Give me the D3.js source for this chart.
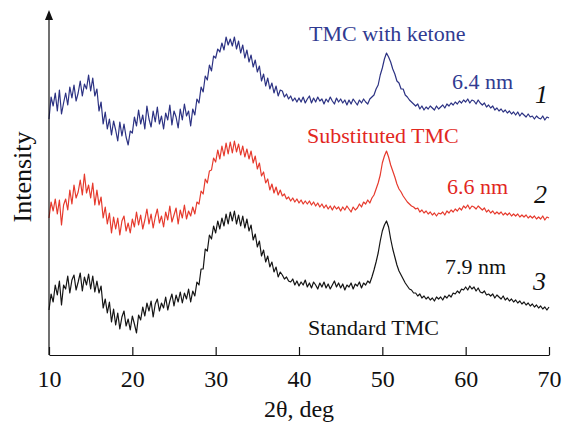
<!DOCTYPE html>
<html>
<head>
<meta charset="utf-8">
<script src="https://cdn.jsdelivr.net/npm/d3@7"></script>
<style>
    body { margin: 0; background: #fff; }
    svg { display: block; font-family: "Liberation Serif", "Times New Roman", serif; }
    .trace { fill: none; stroke-width: 1.2; stroke-linejoin: round; }
</style>
</head>
<body>
<svg id="chart"></svg>
<script>
// 2θ grid, 0.25 deg step from 10 to 70
const angleStart = 10
const angleEnd = 70
const angleStep = 0.25

// intensities (arbitrary units), one value per grid step
const ketoneTMC = [
    236, 258, 249, 262,  244, 265, 241, 252,  262, 250, 268, 257,  270, 254, 262, 274,
    259, 271, 266, 280,  264, 277, 259, 266,  244, 253, 231, 243,  226, 236, 220, 234,
    225, 214, 233, 219,  231, 218, 210, 224,  222, 238, 229, 245,  231, 240, 226, 249,
    236, 228, 244, 233,  248, 231, 239, 226,  242, 235, 250, 230,  244, 238, 227, 246,
    235, 251, 239, 244,  229, 246, 240, 256,  252, 268, 263, 279,  275, 290, 284, 299,
    297, 306, 303, 312,  305, 318, 310, 316,  309, 318, 306, 314,  302, 310, 297, 305,
    293, 300, 288, 295,  283, 289, 274, 281,  269, 277, 266, 272,  262, 269, 259, 265,
    264, 258, 261, 256,  259, 254, 257, 253,  257, 253, 258, 252,  256, 259, 252, 257,
    253, 258, 254, 256,  251, 256, 253, 258,  254, 251, 257, 253,  256, 252, 255, 250,
    255, 251, 256, 253,  250, 255, 252, 256,  253, 251, 256, 258,  260, 266, 270, 280,
    287, 296, 302, 298,  293, 286, 281, 274,  272, 266, 266, 260,  258, 255, 253, 251,
    249, 251, 246, 249,  245, 248, 246, 249,  247, 245, 249, 246,  248, 250, 247, 251,
    249, 252, 250, 253,  251, 254, 252, 255,  253, 256, 252, 255,  254, 251, 255, 252,
    250, 252, 248, 250,  247, 249, 245, 247,  244, 246, 243, 245,  242, 244, 241, 243,
    240, 243, 239, 242,  240, 238, 241, 238,  239, 236, 239, 237,  236, 239, 235, 238,
    237
]

const substitutedTMC = [
    137, 153, 144, 156,  141, 155, 130, 150,  156, 145, 165, 151,  170, 157, 163, 175,
    160, 181, 162, 170,  157, 172, 150, 165,  150, 158, 137, 148,  131, 142, 122, 138,
    126, 137, 120, 134,  139, 124, 132, 122,  136, 128, 143, 130,  140, 126, 135, 146,
    131, 141, 127, 138,  146, 132, 139, 128,  143, 135, 149, 133,  140, 147, 131, 145,
    137, 150, 136, 144,  139, 148, 141, 153,  151, 164, 161, 176,  172, 184, 185, 197,
    193, 205, 196, 209,  199, 212, 201, 213,  202, 214, 203, 211,  200, 209, 198, 206,
    196, 204, 192, 199,  186, 192, 179, 183,  172, 176, 165, 171,  162, 168, 160, 165,
    159, 161, 156, 158,  154, 157, 153, 156,  152, 155, 151, 154,  151, 154, 150, 153,
    149, 152, 148, 151,  147, 150, 146, 149,  145, 149, 146, 148,  144, 148, 145, 149,
    146, 143, 148, 145,  147, 151, 148, 153,  151, 155, 152, 157,  160, 166, 172, 180,
    192, 199, 204, 198,  190, 184, 178, 171,  166, 163, 159, 156,  153, 151, 149, 148,
    146, 147, 143, 145,  142, 144, 141, 143,  140, 142, 139, 142,  141, 143, 140, 144,
    142, 145, 143, 146,  144, 147, 145, 149,  147, 150, 146, 149,  148, 146, 149, 147,
    145, 147, 143, 145,  142, 144, 141, 143,  141, 143, 140, 142,  140, 142, 139, 141,
    139, 141, 138, 140,  138, 140, 137, 139,  137, 139, 136, 138,  136, 139, 135, 138,
    137
]

const standardTMC = [
    45, 61, 53, 70,  60, 74, 50, 70,  66, 79, 62, 75,  80, 65, 73, 82,
    64, 78, 70, 81,  66, 79, 63, 74,  62, 69, 47, 56,  42, 53, 33, 46,
    30, 42, 26, 38,  44, 29, 36, 25,  39, 31, 22, 40,  35, 48, 39, 52,
    44, 54, 38, 51,  56, 44, 52, 47,  58, 45, 54, 61,  49, 60, 53, 63,
    52, 62, 56, 66,  53, 64, 59, 73,  70, 86, 86, 106,  104, 120, 116, 129,
    122, 134, 126, 137,  129, 141, 131, 143,  134, 144, 131, 140,  129, 139, 127, 136,
    124, 130, 115, 121,  108, 114, 99, 105,  93, 99, 88, 93,  83, 88, 78, 83,
    80, 76, 78, 74,  73, 76, 70, 74,  69, 73, 70, 75,  68, 72, 67, 73,
    70, 66, 72, 68,  73, 67, 71, 66,  70, 74, 68, 72,  67, 71, 65, 70,
    68, 72, 66, 71,  69, 73, 67, 72,  70, 74, 72, 78,  85, 93, 102, 114,
    124, 130, 134, 128,  116, 106, 98, 90,  84, 80, 76, 72,  69, 66, 65, 62,
    62, 59, 61, 57,  59, 56, 58, 55,  57, 54, 58, 56,  58, 55, 59, 57,
    60, 58, 62, 61,  64, 62, 66, 65,  68, 65, 69, 66,  68, 64, 67, 63,
    62, 64, 60, 61,  59, 61, 57, 60,  58, 56, 59, 55,  57, 54, 56, 53,
    55, 52, 54, 51,  53, 50, 52, 49,  51, 48, 50, 47,  49, 46, 48, 45,
    48
]

const xTicks = [10, 20, 30, 40, 50, 60, 70]

const series = [
    { name: 'TMC with ketone', size: '6.4 nm', num: '1', values: ketoneTMC, color: '#2c3283', textColor: '#313b91' },
    { name: 'Substituted TMC', size: '6.6 nm', num: '2', values: substitutedTMC, color: '#e63a2d', textColor: '#e2281f' },
    { name: 'Standard TMC', size: '7.9 nm', num: '3', values: standardTMC, color: '#151515', textColor: '#111' },
]

const FONT = '"Liberation Serif", "Times New Roman", serif'
const WIDTH = 565
const HEIGHT = 424
const PADDING = { top: 12, right: 16, bottom: 69, left: 49 }

const svg = d3.select('#chart')
    .attr('width', WIDTH)
    .attr('height', HEIGHT)
    .attr('viewBox', [0, 0, WIDTH, HEIGHT].join(' '))

const bottom = HEIGHT - PADDING.bottom
const xScale = d3.scaleLinear().domain([angleStart, angleEnd]).range([PADDING.left, WIDTH - PADDING.right])
const yScale = d3.scaleLinear().domain([0, bottom - PADDING.top]).range([bottom, PADDING.top])

const angles = d3.range(ketoneTMC.length).map(i => angleStart + i * angleStep)

// traces
const line = d3.line()
    .x((d, i) => xScale(angles[i]))
    .y(d => yScale(d))

svg.append('g')
    .selectAll('path')
    .data(series)
    .join('path')
    .attr('class', 'trace')
    .attr('stroke', d => d.color)
    .attr('d', d => line(d.values))

// x axis, ticks pointing into the plot
const xAxis = d3.axisBottom(xScale)
    .tickValues(xTicks)
    .tickFormat(d3.format('d'))
    .tickSizeInner(-8)
    .tickSizeOuter(0)
    .tickPadding(15)

const xAxisGroup = svg.append('g')
    .attr('transform', `translate(0,${bottom})`)
    .call(xAxis)

xAxisGroup.attr('font-family', FONT).attr('font-size', 24)
xAxisGroup.select('.domain').attr('stroke', '#111').attr('stroke-width', 1.2)
xAxisGroup.selectAll('.tick line').attr('stroke', '#111').attr('stroke-width', 1.2)
xAxisGroup.selectAll('.tick text').attr('fill', '#111')

// y axis with an arrow on top
svg.append('line')
    .attr('x1', PADDING.left).attr('x2', PADDING.left)
    .attr('y1', bottom).attr('y2', PADDING.top + 4)
    .attr('stroke', '#111').attr('stroke-width', 1.2)

svg.append('path')
    .attr('d', `M${PADDING.left},${PADDING.top - 2} L${PADDING.left - 4},${PADDING.top + 8} L${PADDING.left + 4},${PADDING.top + 8} Z`)
    .attr('fill', '#111')

// axis titles
svg.append('text')
    .attr('x', (PADDING.left + WIDTH - PADDING.right) / 2)
    .attr('y', 417)
    .attr('text-anchor', 'middle')
    .attr('fill', '#111')
    .attr('font-family', FONT)
    .attr('font-size', 24)
    .text('2θ, deg')

svg.append('text')
    .attr('transform', 'translate(31,177) rotate(-90)')
    .attr('text-anchor', 'middle')
    .attr('fill', '#111')
    .attr('font-family', FONT)
    .attr('font-size', 26)
    .text('Intensity')

// curve labels
const labelPos = [
    { name: [309, 41], size: [452, 89], num: [535, 103] },
    { name: [307, 143], size: [447, 194], num: [534, 203] },
    { name: [308, 335], size: [445, 274], num: [533, 290] },
]

series.forEach((s, i) => {
    const pos = labelPos[i]
    svg.append('text')
        .attr('x', pos.name[0]).attr('y', pos.name[1])
        .attr('fill', s.textColor)
        .attr('font-family', FONT)
        .attr('font-size', 22)
        .text(s.name)

    svg.append('text')
        .attr('x', pos.size[0]).attr('y', pos.size[1])
        .attr('fill', s.textColor)
        .attr('font-family', FONT)
        .attr('font-size', 22)
        .text(s.size)

    svg.append('text')
        .attr('x', pos.num[0]).attr('y', pos.num[1])
        .attr('fill', '#111')
        .attr('font-family', FONT)
        .attr('font-size', 26)
        .attr('font-style', 'italic')
        .text(s.num)
})
</script>
</body>
</html>
